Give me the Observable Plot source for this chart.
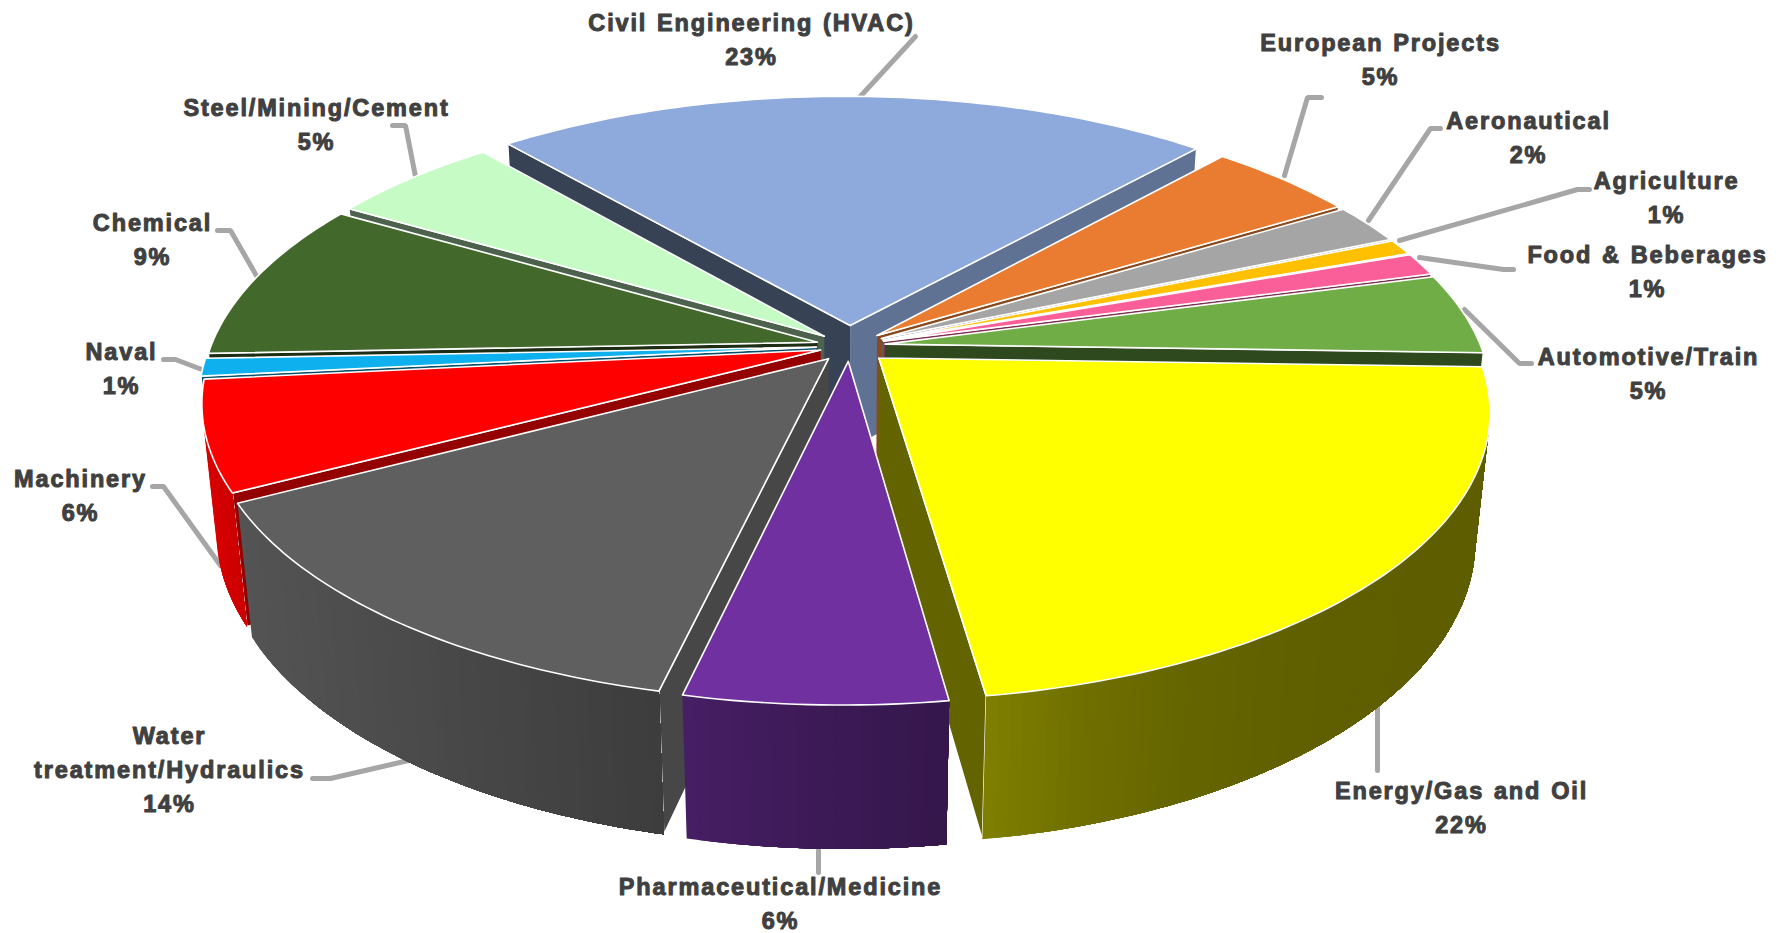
<!DOCTYPE html>
<html><head><meta charset="utf-8">
<style>html,body{margin:0;padding:0;background:#fff;overflow:hidden}svg{display:block}svg text{letter-spacing:1.85px;word-spacing:1.5px}</style>
<script src="https://cdn.jsdelivr.net/npm/d3@7"></script>
<script src="https://cdn.jsdelivr.net/npm/@observablehq/plot@0.6"></script>
</head><body><div id="chart"></div>
<script>
const categories = ["Civil Engineering (HVAC)","European Projects","Aeronautical","Agriculture","Food & Beberages","Automotive/Train","Energy/Gas and Oil","Pharmaceutical/Medicine","Water treatment/Hydraulics","Machinery","Naval","Chemical","Steel/Mining/Cement"];
const shares = [22.83,4.7,2.3,.9,1.3,4.6,22.2,5.8,13.7,6.17,1,9.13,5.37];
const labelText = ["Civil Engineering (HVAC)\n23%","European Projects\n5%","Aeronautical\n2%","Agriculture\n1%","Food & Beberages\n1%","Automotive/Train\n5%","Energy/Gas and Oil\n22%","Pharmaceutical/Medicine\n6%","Water\ntreatment/Hydraulics\n14%","Machinery\n6%","Naval\n1%","Chemical\n9%","Steel/Mining/Cement\n5%"];
const colors = ["#8EA9DB","#E97C30","#A5A5A5","#FFC000","#FB5F9A","#70AD47","#FFFF00","#7030A0","#5F5F5F","#FF0000","#0FB0EE","#43682B","#C6FBC6"];
const explode = [.075,.06,.06,.06,.06,.06,.065,.055,.057,.05,.055,.055,.055];
const sideShade = [[.6,.5],[.7,.5],[.7,.5],[.7,.5],[.7,.5],[.7,.5],[.5,.37],[.62,.47],[.88,.64],[.85,.8],[.7,.5],[.6,.5],[.7,.5]];
const sideEase = [1,1,1,1,1,1,3,1,1,1,1,1,1];
const labelX = [751,1380,1528,1666,1647,1648,1461,780,169,80,121,152,316];
const labelY = [37,57,135,195,269,371,805,901,767,493,366,237,122];
const leaders = [
 [[857,99],[915,36]],
 [[1284,175],[1307,97],[1321,97]],
 [[1368,220],[1430,128],[1440,128]],
 [[1399,240],[1577,189],[1589,189]],
 [[1419,257],[1503,269],[1513,269]],
 [[1464,309],[1519,363],[1531,363]],
 [[1377,705],[1377,770]],
 [[818,850],[818,872]],
 [[408,760],[330,778],[312,778]],
 [[220,565],[163,486],[152,486]],
 [[204,370],[175,359],[163,359]],
 [[257,277],[230,230],[217,230]],
 [[415,176],[405,125],[392,125]]
];

// pinhole camera over a unit-radius pie
const cam = {cx:843.5, cy:345.5, f:3005, D:5, phi:27.4*Math.PI/180, h:.24, start:-40.1, apexShift:.009};
const s = Math.sin(cam.phi), c = Math.cos(cam.phi);
function project(X,Y,Z){
  const up = Y*s+Z*c, depth = cam.D+Y*c-Z*s;
  return [cam.cx+cam.f*X/depth, cam.cy-cam.f*up/depth];
}
const camPos = [0,-cam.D*c,cam.D*s];
function shade(hex,k){const q=d3.rgb(hex);return d3.rgb(q.r*k,q.g*k,q.b*k).formatHex();}
const total = d3.sum(shares);
const rad = d=>d*Math.PI/180;
let cum = 0;
const slices = shares.map((v,i)=>{
  const a = cam.start+360*cum/total; cum += v;
  const b = cam.start+360*cum/total;
  const mid = rad((a+b)/2);
  return {i,a,b,ex:Math.sin(mid)*explode[i],ey:Math.cos(mid)*explode[i],depth:Math.cos(mid)};
}).sort((p,q)=>q.depth-p.depth);

const polys = [];
let pid = 0;
function addPoly(points,fill,stroke,sw){
  const id = pid++;
  for(const p of points) polys.push({id,x:p[0],y:p[1],fill,stroke,sw});
}
for(const sl of slices){
  const col = colors[sl.i];
  const P=(t,r,z)=>project(sl.ex+r*Math.sin(rad(t))+(r===0?cam.apexShift:0),sl.ey+r*Math.cos(rad(t)),z);
  const vis=(t,r,nx,ny)=>{const x=sl.ex+r*Math.sin(rad(t)),y=sl.ey+r*Math.cos(rad(t));
    return (camPos[0]-x)*nx+(camPos[1]-y)*ny>0;};
  const wall=(t,nx,ny)=>{
    if(!vis(t,.5,nx,ny)) return;
    const k=nx<-.3?.39:.42+.34*Math.max(nx,0);
    addPoly([P(t,0,0),P(t,1,0),P(t,1,-cam.h),P(t,0,-cam.h)],shade(col,k),"#fff",1.3);
  };
  wall(sl.a,-Math.cos(rad(sl.a)),Math.sin(rad(sl.a)));
  wall(sl.b,Math.cos(rad(sl.b)),-Math.sin(rad(sl.b)));
  // outer rim: each band runs from its own edge to the slice's right end, painted left to right
  const n=Math.max(2,Math.ceil((sl.b-sl.a)/1));
  const [k0,k1]=sideShade[sl.i];
  const ts=d3.range(n+1).map(j=>sl.a+(sl.b-sl.a)*j/n);
  const visT=ts.filter(t=>vis(t,1,Math.sin(rad(t)),Math.cos(rad(t))));
  if(visT.length>1){
    const xs=visT.map(t=>P(t,1,0)[0]);
    const x0=d3.min(xs),x1=d3.max(xs);
    const order=d3.range(visT.length-1).sort((p,q)=>(xs[p]+xs[p+1])-(xs[q]+xs[q+1]));
    for(const j of order){
      const xm=(xs[j]+xs[j+1])/2;
      const u=(xm-x0)/(x1-x0||1);
      const f=shade(col,k0+(k1-k0)*(1-Math.pow(1-u,sideEase[sl.i])));
      const run=xs[j+1]>xs[j]?visT.slice(j):visT.slice(0,j+2);
      addPoly([...run.map(t=>P(t,1,0)),...run.slice().reverse().map(t=>P(t,1,-cam.h))],f,"none",0);
    }
  }
  // top
  const top=[P(0,0,0),...ts.map(t=>P(t,1,0)),P(0,0,0)];
  addPoly(top,col,"#fff",1.6);
}

const leaderRows = leaders.flatMap((l,i)=>l.map(p=>({i,x:p[0],y:p[1]})));
const labels = labelText.map((t,i)=>({t,x:labelX[i],y:labelY[i]}));

const plot = Plot.plot({
  width:1776,height:933,margin:0,
  x:{domain:[0,1776],range:[0,1776],axis:null},
  y:{domain:[0,933],range:[0,933],axis:null},
  color:{type:"identity"},
  style:{background:"#fff"},
  marks:[
    Plot.line(leaderRows,{x:"x",y:"y",z:"i",stroke:"#A6A6A6",strokeWidth:5,strokeLinejoin:"miter"}),
    Plot.line(polys,{x:"x",y:"y",z:"id",fill:"fill",stroke:"stroke",strokeWidth:"sw",strokeLinejoin:"round"}),
    Plot.text(labels,{x:"x",y:"y",text:"t",fontFamily:"Liberation Sans",fontWeight:"bold",fontSize:23.5,lineHeight:1.45,fill:"#404040",stroke:"#404040",strokeWidth:1,textAnchor:"middle"})
  ]
});
document.getElementById("chart").appendChild(plot);
</script></body></html>
